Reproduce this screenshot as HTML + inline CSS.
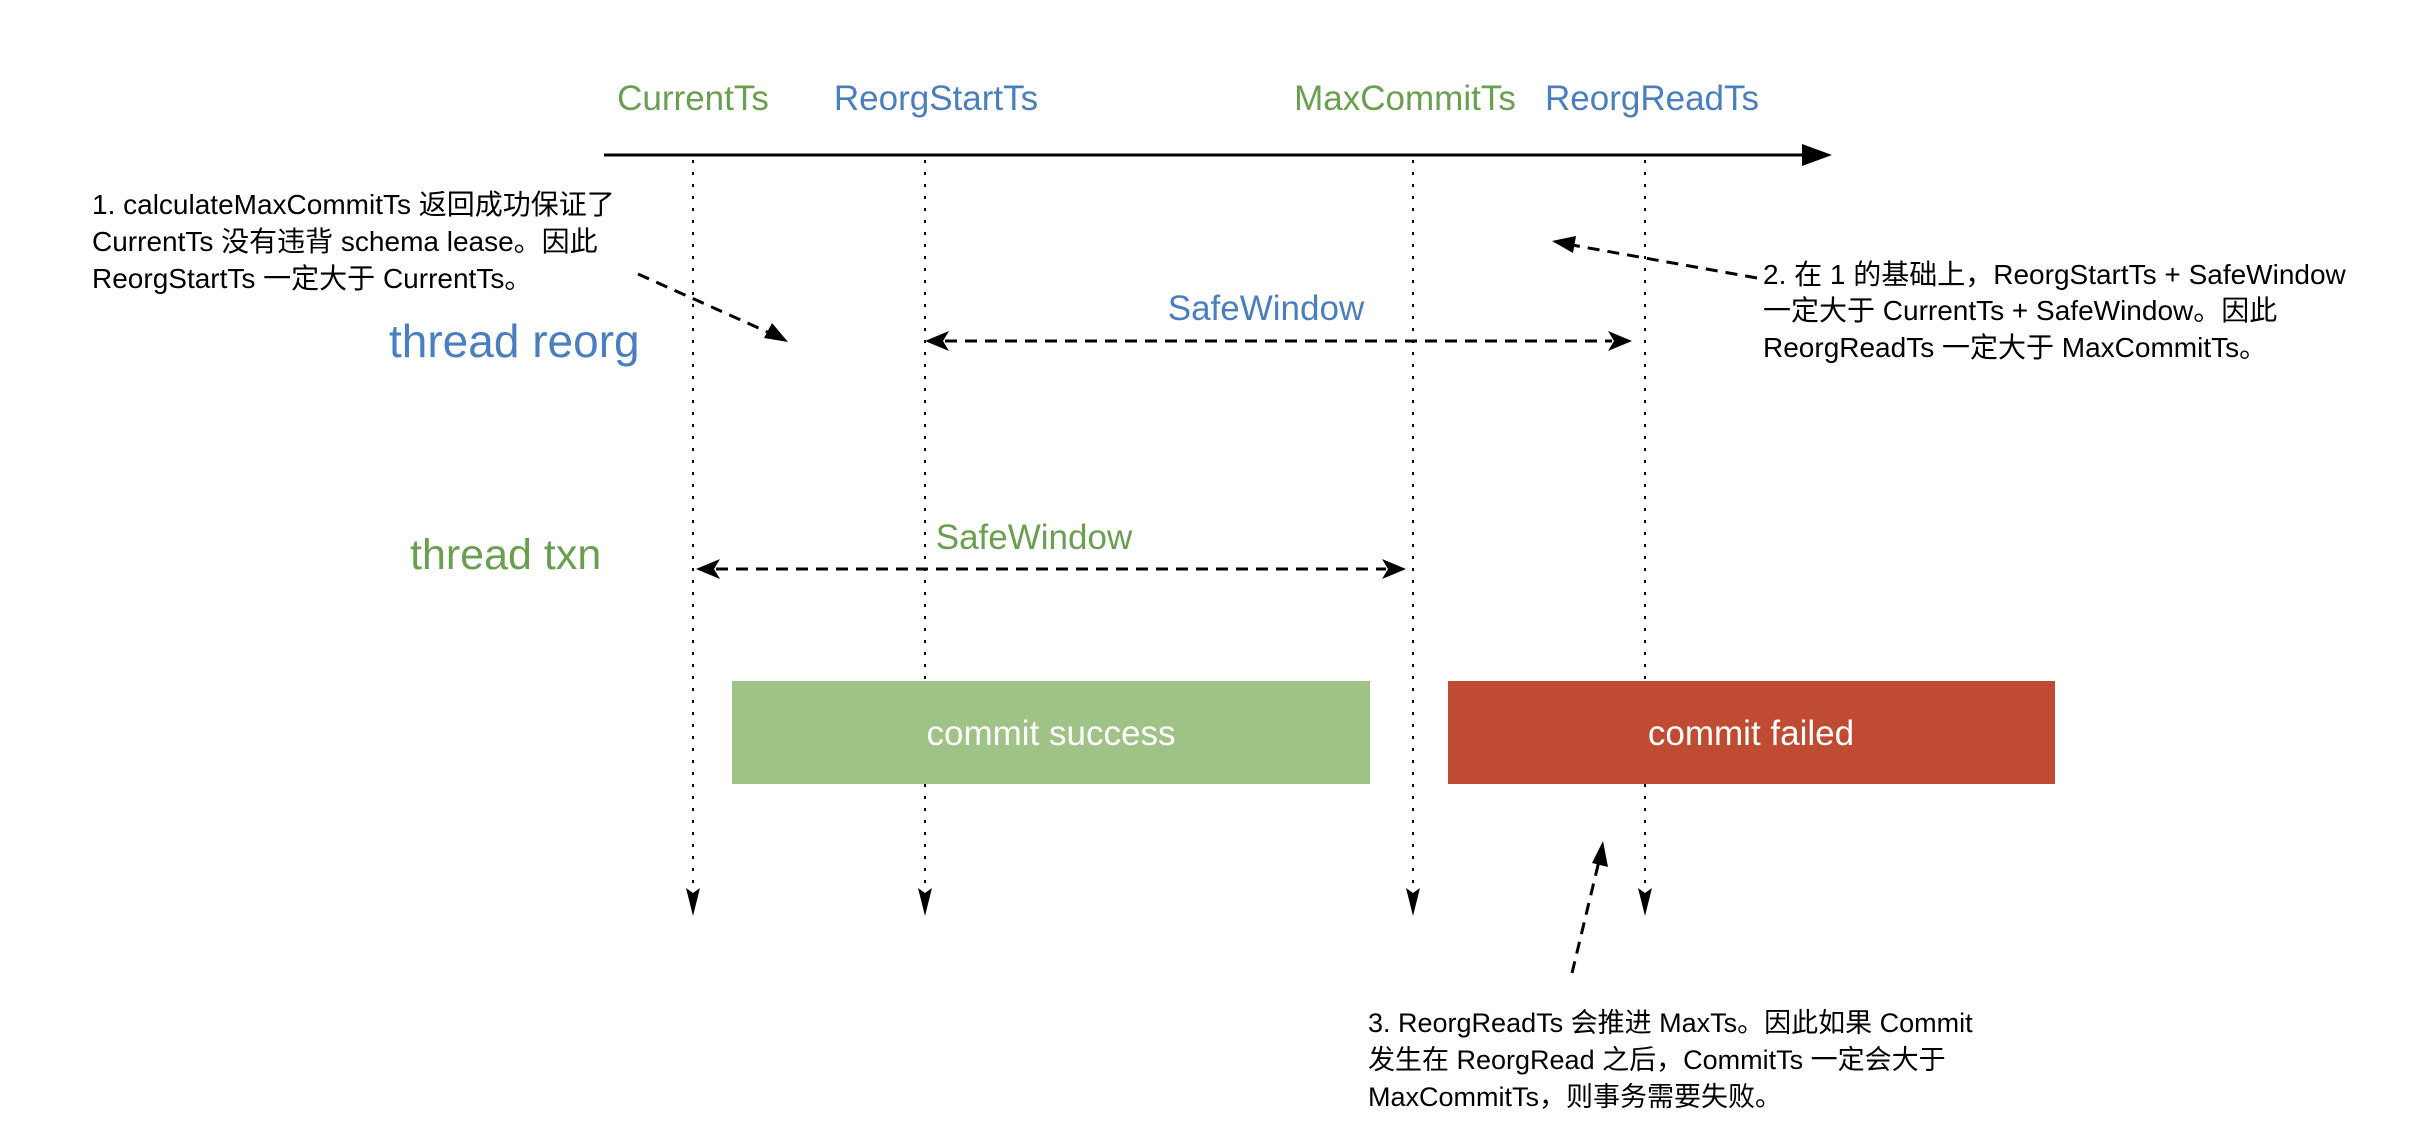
<!DOCTYPE html>
<html><head><meta charset="utf-8"><style>
html,body{margin:0;padding:0;background:#fff;}
svg{display:block;}
text{font-family:"Liberation Sans","Noto Sans CJK SC",sans-serif;}
</style></head><body>
<svg width="2410" height="1132" viewBox="0 0 2410 1132" xmlns="http://www.w3.org/2000/svg">
<rect width="2410" height="1132" fill="#fff"/>
<line x1="604" y1="155" x2="1805" y2="155" stroke="#000" stroke-width="3"/>
<polygon points="1832,155 1802,144 1802,166" fill="#000"/>
<g stroke="#000" stroke-width="2" stroke-dasharray="3,9">
<line x1="693" y1="160" x2="693" y2="892"/>
<line x1="925" y1="160" x2="925" y2="892"/>
<line x1="1413" y1="160" x2="1413" y2="892"/>
<line x1="1645" y1="160" x2="1645" y2="892"/>
</g>
<g fill="#000">
<polygon points="693,916 686,888 693,893 700,888"/>
<polygon points="925,916 918,888 925,893 932,888"/>
<polygon points="1413,916 1406,888 1413,893 1420,888"/>
<polygon points="1645,916 1638,888 1645,893 1652,888"/>
</g>
<g font-size="35" text-anchor="middle">
<text x="693" y="110" fill="#6a9f4f">CurrentTs</text>
<text x="936" y="110" fill="#4a7ebf">ReorgStartTs</text>
<text x="1405" y="110" fill="#6a9f4f">MaxCommitTs</text>
<text x="1652" y="110" fill="#4a7ebf">ReorgReadTs</text>
</g>
<text x="389" y="357" font-size="46" fill="#4a7ebf">thread reorg</text>
<text x="410" y="569" font-size="43" fill="#6a9f4f">thread txn</text>
<g font-size="28" fill="#000">
<text x="92" y="214">1. calculateMaxCommitTs 返回成功保证了</text>
<text x="92" y="251">CurrentTs 没有违背 schema lease。因此</text>
<text x="92" y="288">ReorgStartTs 一定大于 CurrentTs。</text>
<text x="1763" y="284">2. 在 1 的基础上，ReorgStartTs + SafeWindow</text>
<text x="1763" y="320">一定大于 CurrentTs + SafeWindow。因此</text>
<text x="1763" y="357">ReorgReadTs 一定大于 MaxCommitTs。</text>
</g>
<g font-size="27" fill="#000">
<text x="1368" y="1032">3. ReorgReadTs 会推进 MaxTs。因此如果 Commit</text>
<text x="1368" y="1069">发生在 ReorgRead 之后，CommitTs 一定会大于</text>
<text x="1368" y="1106">MaxCommitTs，则事务需要失败。</text>
</g>
<text x="1266" y="320" font-size="35" fill="#4a7ebf" text-anchor="middle">SafeWindow</text>
<text x="1034" y="549" font-size="35" fill="#6a9f4f" text-anchor="middle">SafeWindow</text>
<g stroke="#000" stroke-width="3" stroke-dasharray="12,8" fill="none">
<line x1="638" y1="274" x2="772" y2="334"/>
<line x1="945" y1="341" x2="1612" y2="341"/>
<line x1="716" y1="569" x2="1386" y2="569"/>
<line x1="1757" y1="278" x2="1572" y2="245"/>
<line x1="1572" y1="973" x2="1599" y2="861"/>
</g>
<g fill="#000">
<polygon points="788,342 764,338 772,323"/>
<polygon points="925,341 949,331 943,341 949,351"/>
<polygon points="1632,341 1608,331 1614,341 1608,351"/>
<polygon points="696,569 720,559 714,569 720,579"/>
<polygon points="1406,569 1382,559 1388,569 1382,579"/>
<polygon points="1552,241 1576,236 1573,253"/>
<polygon points="1603,841 1608,867 1592,863"/>
</g>
<rect x="732" y="681" width="638" height="103" fill="#9fc386"/>
<text x="1051" y="745" font-size="35" fill="#fff" text-anchor="middle">commit success</text>
<rect x="1448" y="681" width="607" height="103" fill="#c04b33"/>
<text x="1751" y="745" font-size="35" fill="#fff" text-anchor="middle">commit failed</text>
</svg>
</body></html>
